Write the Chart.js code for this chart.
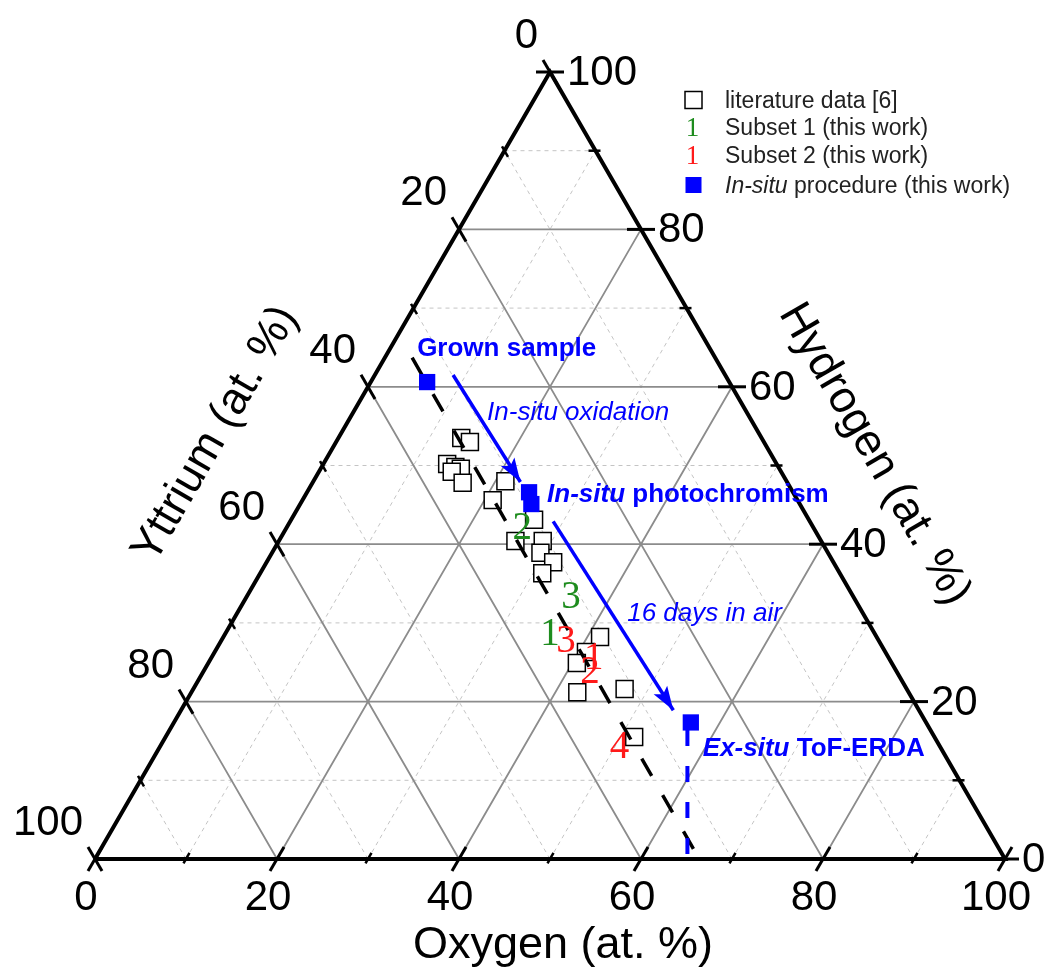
<!DOCTYPE html>
<html>
<head>
<meta charset="utf-8">
<title>Y-O-H ternary diagram</title>
<script src="https://cdn.jsdelivr.net/npm/chart.js@4.4.0/dist/chart.umd.min.js"></script>
<style>
    html, body { margin: 0; padding: 0; background: #fff; }
    #wrap { width: 1050px; height: 969px; }
</style>
</head>
<body>
<div id="wrap"><canvas id="ternary" width="1050" height="969"></canvas></div>
<script>
// composition values in at. %: [oxygen, hydrogen], yttrium = 100 - O - H
const tickSteps = [0, 10, 20, 30, 40, 50, 60, 70, 80, 90, 100];
const tickLabels = [0, 20, 40, 60, 80, 100];
const majorGrid = [20, 40, 60, 80];
const minorGrid = [10, 30, 50, 70, 90];
const axisTitles = ['Oxygen (at. %)', 'Hydrogen (at. %)', 'Yttrium (at. %)'];

const literatureO = [13.5, 14.7, 13.6, 14.7, 15.4, 14.6, 16.5, 21.1, 20.9, 26.7, 26.0, 29.0, 29.5, 31.5, 31.0, 41.4, 40.8, 40.5, 42.4, 47.4, 51.5];
const literatureH = [53.5, 53.0, 50.2, 49.8, 49.6, 49.2, 47.8, 48.0, 45.6, 43.1, 40.4, 40.4, 38.9, 37.7, 36.3, 28.2, 26.3, 24.9, 21.2, 21.6, 15.5];

const subset1Text = ['2', '3', '1'];
const subset1O = [25.8, 35.5, 35.6];
const subset1H = [42.3, 33.6, 28.8];

const subset2Text = ['3', '1', '2', '4'];
const subset2O = [37.8, 41.9, 42.4, 50.4];
const subset2H = [27.9, 25.8, 24.0, 14.5];

// grown sample, in-situ photochromism (2 points), ex-situ ToF-ERDA
const inSituO = [6.2, 24.4, 25.4, 56.8];
const inSituH = [60.6, 46.6, 45.1, 17.35];

const oxidationO = [8.6, 22.8];
const oxidationH = [61.5, 47.9];
const airO = [28.9, 54.1];
const airH = [42.9, 18.9];
const erdaO = [56.9, 65.1];
const erdaH = [16.4, 0];
const trendO = [3.0, 66.4];
const trendH = [63.7, 0];

const legendLabels = ['literature data [6]', 'Subset 1 (this work)', 'Subset 2 (this work)', ' procedure (this work)'];

const SQ3 = Math.sqrt(3) / 2;
const BLUE = '#0000ff';
const GREEN = '#1e8c1e';
const RED = '#ff1a1a';
const SANS = '"Liberation Sans", Arial, sans-serif';
const SERIF = '"Liberation Serif", "Times New Roman", serif';
const GAP = { x: null, y: null };

function tern(o, h) {
    return { x: o + h / 2, y: h * SQ3 };
}

function series(os, hs) {
    return os.map((o, i) => tern(o, hs[i]));
}

function gridSegments(values) {
    const out = [];
    values.forEach(v => {
        out.push(tern(v, 0), tern(v, 100 - v), GAP);
        out.push(tern(0, v), tern(100 - v, v), GAP);
        out.push(tern(100 - v, 0), tern(0, 100 - v), GAP);
    });
    return out;
}

function toPx(chart, o, h) {
    const p = tern(o, h);
    return { x: chart.scales.x.getPixelForValue(p.x), y: chart.scales.y.getPixelForValue(p.y) };
}

function unit(a, b) {
    const dx = b.x - a.x, dy = b.y - a.y;
    const l = Math.hypot(dx, dy);
    return { x: dx / l, y: dy / l };
}

function drawParts(ctx, parts, x, y) {
    parts.forEach(([text, font]) => {
        ctx.font = font;
        ctx.fillText(text, x, y);
        x += ctx.measureText(text).width;
    });
}

// ticks, tick labels and axis titles of the triangle
const ternaryAxes = {
    id: 'ternaryAxes',
    afterDatasetsDraw(chart) {
        const ctx = chart.ctx;
        const dirO = unit(toPx(chart, 0, 0), toPx(chart, 0, 100));
        const dirH = unit(toPx(chart, 100, 0), toPx(chart, 0, 0));
        const dirY = unit(toPx(chart, 0, 100), toPx(chart, 100, 0));
        ctx.save();
        ctx.strokeStyle = '#000';
        tickSteps.forEach(v => {
            const major = v % 20 === 0;
            const inner = major ? 14 : 7;
            const outer = major ? 14 : 5;
            ctx.lineWidth = major ? 3 : 2.5;
            const marks = [
                [toPx(chart, v, 0), dirO],
                [toPx(chart, 100 - v, v), dirH],
                [toPx(chart, 0, 100 - v), dirY]
            ];
            marks.forEach(([p, d]) => {
                ctx.beginPath();
                ctx.moveTo(p.x - d.x * outer, p.y - d.y * outer);
                ctx.lineTo(p.x + d.x * inner, p.y + d.y * inner);
                ctx.stroke();
            });
        });

        ctx.fillStyle = '#000';
        ctx.font = '42px ' + SANS;
        ctx.textBaseline = 'alphabetic';
        tickLabels.forEach(v => {
            const pO = toPx(chart, v, 0);
            ctx.textAlign = 'center';
            ctx.fillText(String(v), pO.x - 9, pO.y + 51);
            const pH = toPx(chart, 100 - v, v);
            ctx.textAlign = 'left';
            ctx.fillText(String(v), pH.x + 17, pH.y + 13);
            const pY = toPx(chart, 0, 100 - v);
            ctx.textAlign = 'right';
            ctx.fillText(String(v), pY.x - 12, pY.y - 24);
        });

        ctx.font = '45px ' + SANS;
        ctx.textAlign = 'center';
        const mO = toPx(chart, 50, 0);
        ctx.fillText(axisTitles[0], mO.x + 13, mO.y + 99);
        const mH = toPx(chart, 50, 50);
        ctx.save();
        ctx.translate(mH.x + 100, mH.y - 13);
        ctx.rotate(Math.PI / 3);
        ctx.fillText(axisTitles[1], 0, 16);
        ctx.restore();
        const mY = toPx(chart, 0, 50);
        ctx.save();
        ctx.translate(mY.x - 110, mY.y - 33);
        ctx.rotate(-Math.PI / 3);
        ctx.fillText(axisTitles[2], 0, 16);
        ctx.restore();
        ctx.restore();
    }
};

// arrow heads and numeral markers
const markExtras = {
    id: 'markExtras',
    afterDatasetsDraw(chart) {
        const ctx = chart.ctx;
        chart.data.datasets.forEach((ds, i) => {
            const meta = chart.getDatasetMeta(i);
            if (ds.arrowHead) {
                const pts = meta.data;
                const a = pts[pts.length - 2], b = pts[pts.length - 1];
                const ang = Math.atan2(b.y - a.y, b.x - a.x);
                ctx.save();
                ctx.translate(b.x, b.y);
                ctx.rotate(ang);
                ctx.fillStyle = ds.borderColor;
                ctx.beginPath();
                ctx.moveTo(0, 0);
                ctx.lineTo(-24, -8);
                ctx.lineTo(-19, 0);
                ctx.lineTo(-24, 8);
                ctx.closePath();
                ctx.fill();
                ctx.restore();
            }
            if (ds.numerals) {
                ctx.save();
                ctx.font = '39px ' + SERIF;
                ctx.fillStyle = ds.numeralColor;
                ctx.textAlign = 'center';
                ctx.textBaseline = 'alphabetic';
                meta.data.forEach((pt, j) => ctx.fillText(ds.numerals[j], pt.x, pt.y + 13));
                ctx.restore();
            }
        });
    }
};

// blue annotations next to the in-situ points
const annotations = {
    id: 'annotations',
    afterDatasetsDraw(chart) {
        const ctx = chart.ctx;
        const bold = 'bold 26px ' + SANS;
        const boldIt = 'italic bold 26px ' + SANS;
        const it = 'italic 26px ' + SANS;
        ctx.save();
        ctx.fillStyle = BLUE;
        ctx.textAlign = 'left';
        ctx.textBaseline = 'alphabetic';
        const grown = toPx(chart, inSituO[0], inSituH[0]);
        drawParts(ctx, [['Grown sample', bold]], grown.x - 10, grown.y - 26);
        const ox = toPx(chart, oxidationO[0], oxidationH[0]);
        drawParts(ctx, [['In-situ oxidation', it]], ox.x + 34, ox.y + 45);
        const photo = toPx(chart, inSituO[1], inSituH[1]);
        drawParts(ctx, [['In-situ', boldIt], [' photochromism', bold]], photo.x + 18, photo.y + 10);
        const air = toPx(chart, airO[0], airH[0]);
        drawParts(ctx, [['16 days in air', it]], air.x + 74, air.y + 100);
        const erda = toPx(chart, inSituO[3], inSituH[3]);
        drawParts(ctx, [['Ex-situ', boldIt], [' ToF-ERDA', bold]], erda.x + 12, erda.y + 34);
        ctx.restore();
    }
};

const legendBox = {
    id: 'legendBox',
    afterDraw(chart) {
        const ctx = chart.ctx;
        const sx = 693.5, tx = 725;
        const rows = [100, 127, 155, 185];
        ctx.save();
        ctx.fillStyle = '#fff';
        ctx.strokeStyle = '#000';
        ctx.lineWidth = 1.5;
        ctx.fillRect(sx - 8.5, rows[0] - 8.5, 17, 17);
        ctx.strokeRect(sx - 8.5, rows[0] - 8.5, 17, 17);
        ctx.fillStyle = BLUE;
        ctx.fillRect(sx - 8, rows[3] - 8, 16, 16);

        ctx.textAlign = 'center';
        ctx.textBaseline = 'alphabetic';
        ctx.font = '27px ' + SERIF;
        ctx.fillStyle = GREEN;
        ctx.fillText('1', sx - 1, rows[1] + 9);
        ctx.fillStyle = RED;
        ctx.fillText('1', sx - 1, rows[2] + 9);

        ctx.textAlign = 'left';
        ctx.fillStyle = '#222';
        const reg = '23px ' + SANS;
        for (let i = 0; i < 3; i++) {
            ctx.font = reg;
            ctx.fillText(legendLabels[i], tx, rows[i] + 8);
        }
        drawParts(ctx, [['In-situ', 'italic ' + reg], [legendLabels[3], reg]], tx, rows[3] + 8);
        ctx.restore();
    }
};

const lineDefaults = { showLine: true, pointRadius: 0, clip: false, spanGaps: false };

new Chart(document.getElementById('ternary'), {
    type: 'scatter',
    data: {
        datasets: [
            {
                ...lineDefaults,
                label: 'minor grid',
                data: gridSegments(minorGrid),
                borderColor: '#c4c4c4',
                borderWidth: 1,
                borderDash: [4, 4],
                order: 10
            },
            {
                ...lineDefaults,
                label: 'major grid',
                data: gridSegments(majorGrid),
                borderColor: '#8c8c8c',
                borderWidth: 1.8,
                order: 9
            },
            {
                ...lineDefaults,
                label: 'edges',
                data: [tern(0, 0), tern(100, 0), tern(0, 100), tern(0, 0)],
                borderColor: '#000',
                borderWidth: 4,
                borderJoinStyle: 'miter',
                order: 8
            },
            {
                label: 'literature data [6]',
                data: series(literatureO, literatureH),
                pointStyle: 'rect',
                pointRadius: 12,
                borderColor: '#000',
                borderWidth: 1.5,
                backgroundColor: '#fff',
                clip: false,
                order: 7
            },
            {
                ...lineDefaults,
                label: 'trend',
                data: series(trendO, trendH),
                borderColor: '#000',
                borderWidth: 3.5,
                borderDash: [20, 22],
                order: 6
            },
            {
                ...lineDefaults,
                label: 'ERDA',
                data: series(erdaO, erdaH),
                borderColor: BLUE,
                borderWidth: 4,
                borderDash: [16, 20],
                order: 5
            },
            {
                ...lineDefaults,
                label: 'In-situ oxidation',
                data: series(oxidationO, oxidationH),
                borderColor: BLUE,
                borderWidth: 3.5,
                arrowHead: true,
                order: 4
            },
            {
                ...lineDefaults,
                label: '16 days in air',
                data: series(airO, airH),
                borderColor: BLUE,
                borderWidth: 3.5,
                arrowHead: true,
                order: 4
            },
            {
                label: 'In-situ procedure (this work)',
                data: series(inSituO, inSituH),
                pointStyle: 'rect',
                pointRadius: 11.5,
                borderWidth: 0,
                backgroundColor: BLUE,
                clip: false,
                order: 3
            },
            {
                label: 'Subset 1 (this work)',
                data: series(subset1O, subset1H),
                pointRadius: 0,
                numerals: subset1Text,
                numeralColor: GREEN,
                clip: false,
                order: 2
            },
            {
                label: 'Subset 2 (this work)',
                data: series(subset2O, subset2H),
                pointRadius: 0,
                numerals: subset2Text,
                numeralColor: RED,
                clip: false,
                order: 2
            }
        ]
    },
    options: {
        responsive: false,
        animation: false,
        layout: { padding: { left: 95, right: 45, top: 72, bottom: 110 } },
        scales: {
            x: { type: 'linear', min: 0, max: 100, display: false },
            y: { type: 'linear', min: 0, max: 100 * SQ3, display: false }
        },
        plugins: {
            legend: { display: false },
            tooltip: { enabled: false }
        }
    },
    plugins: [ternaryAxes, markExtras, annotations, legendBox]
});
</script>
</body>
</html>
